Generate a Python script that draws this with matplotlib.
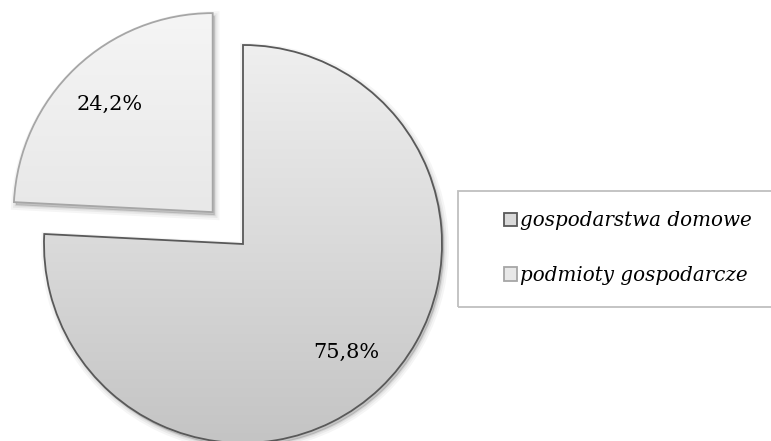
import numpy as np
import matplotlib.pyplot as plt
from matplotlib.colors import LinearSegmentedColormap
from matplotlib.patches import Wedge, Rectangle

# dane
labels = ['gospodarstwa domowe', 'podmioty gospodarcze']
shares = [75.8, 24.2]
explode = [0, 44]

face_top = ['#efefef', '#f5f5f5']
face_mid = ['#dadada', '#e8e8e8']
face_bottom = ['#c4c4c4', '#dcdcdc']
edge_colors = ['#595959', '#a6a6a6']

W, H = 771, 441
fig = plt.figure(figsize=(W / 100, H / 100), dpi=100)
ax = fig.add_axes([0, 0, 1, 1])

wedges, texts, autotexts = ax.pie(
    shares, explode=explode, radius=199, center=(243, 197),
    startangle=90, counterclock=False,
    colors=face_mid,
    autopct=lambda p: f'{p:.1f}%'.replace('.', ','),
    pctdistance=0.75,
    wedgeprops=dict(linewidth=1.3),
    textprops=dict(family='DejaVu Serif', size=15, color='#000000'),
)
for w, ec in zip(wedges, edge_colors):
    w.set_edgecolor(ec)

# legenda (przed zmiana wypelnienia klinow)
leg = fig.legend(wedges, labels, loc='center left',
                 bbox_to_anchor=(486 / W, 1 - 248 / H),
                 frameon=False, handlelength=0.65, handleheight=0.65,
                 handletextpad=0.15, labelspacing=1.8,
                 prop=dict(family='DejaVu Serif', style='italic', size=14.3))
fig.add_artist(Rectangle((458 / W, 1 - 307 / H), 0.5, 116 / H,
                         transform=fig.transFigure, fill=False,
                         edgecolor='#bfbfbf', linewidth=1.3))

# cien + gradient
grad = np.linspace(0, 1, 256).reshape(-1, 1)
for i, w in enumerate(wedges):
    cx, cy = w.center
    r = w.r
    for lw, a in [(7, 0.04), (4, 0.05), (1.5, 0.07)]:
        ax.add_patch(Wedge((cx + 2, cy - 3), r, w.theta1, w.theta2,
                           facecolor='black', edgecolor='black',
                           linewidth=lw, alpha=a, zorder=0.5))
    cmap = LinearSegmentedColormap.from_list(
        f'g{i}', [face_top[i], face_mid[i], face_bottom[i]])
    im = ax.imshow(grad, cmap=cmap, aspect='auto', origin='upper',
                   extent=(cx - r, cx + r, cy - r, cy + r), zorder=1.2)
    im.set_clip_path(w)
    w.set_facecolor('none')
    w.set_zorder(1.5)

ax.set_xlim(0, W)
ax.set_ylim(0, H)
ax.set_aspect('auto')
ax.axis('off')

fig.savefig('out.png', dpi=100, facecolor='white')
